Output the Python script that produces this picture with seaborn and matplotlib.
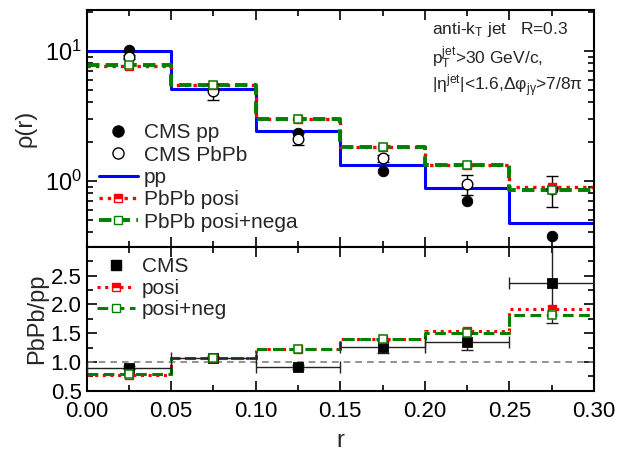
import numpy as np
import pandas as pd
import matplotlib
matplotlib.use("Agg")
import matplotlib.pyplot as plt
from matplotlib.ticker import MultipleLocator, FixedLocator, NullFormatter, LogLocator
from matplotlib.lines import Line2D
import seaborn as sns

# ---------------- data ----------------
bin_edges = [0.0, 0.05, 0.10, 0.15, 0.20, 0.25, 0.30]
bin_centers = [0.025, 0.075, 0.125, 0.175, 0.225, 0.275]

# top panel: rho(r)
cms_pp = [10.1, 4.95, 2.34, 1.19, 0.70, 0.376]
cms_pbpb = [9.0, 4.9, 2.1, 1.49, 0.94, 0.86]
cms_pbpb_err = [0.3, 0.7, 0.23, 0.1, 0.17, 0.23]
model_pp = [9.9, 5.1, 2.42, 1.31, 0.873, 0.472]
model_posi = [7.65, 5.47, 2.97, 1.83, 1.32, 0.90]
model_posineg = [7.76, 5.45, 2.97, 1.83, 1.31, 0.853]

# bottom panel: PbPb/pp
ratio_cms = [0.90, 1.075, 0.91, 1.26, 1.35, 2.37]
ratio_cms_yerr = [0.03, 0.03, 0.03, 0.10, 0.15, 0.70]
ratio_posi = [0.78, 1.065, 1.22, 1.405, 1.54, 1.92]
ratio_posineg = [0.79, 1.065, 1.22, 1.40, 1.50, 1.82]

# ---------------- style ----------------
sns.set_theme(style="ticks")
plt.rcParams["font.family"] = ["Liberation Sans", "DejaVu Sans"]
plt.rcParams["mathtext.fontset"] = "custom"
plt.rcParams["mathtext.rm"] = "Liberation Sans"
plt.rcParams["mathtext.it"] = "Liberation Sans"
plt.rcParams["mathtext.sf"] = "Liberation Sans"

W, H = 619, 455
fig = plt.figure(figsize=(W / 100, H / 100), dpi=100)
L, R = 86.5 / W, 594 / W
TOP, MID, BOT = 10, 247, 390.7
ax1 = fig.add_axes([L, 1 - MID / H, R - L, (MID - TOP) / H])
ax2 = fig.add_axes([L, 1 - BOT / H, R - L, (BOT - MID) / H])

RED_LS = (0, (1, 1.5))
GRN_LS = (0, (3.2, 1.6))


def steps(vals):
    return pd.DataFrame({"x": bin_edges, "y": list(vals) + [vals[-1]]})


# ---- top panel ----
sns.lineplot(data=steps(model_pp), x="x", y="y", ax=ax1, drawstyle="steps-post",
             color="#0000ff", lw=2.2, sort=False, estimator=None)
sns.lineplot(data=steps(model_posi), x="x", y="y", ax=ax1, drawstyle="steps-post",
             color="#ff0000", lw=2.4, linestyle=RED_LS, sort=False, estimator=None)
sns.lineplot(data=steps(model_posineg), x="x", y="y", ax=ax1, drawstyle="steps-post",
             color="#008000", lw=2.8, linestyle=GRN_LS, sort=False, estimator=None)

ax1.errorbar(bin_centers, cms_pbpb, yerr=cms_pbpb_err, fmt="none", ecolor="black",
             elinewidth=1, capsize=4, zorder=3)
sns.scatterplot(x=bin_centers, y=cms_pp, ax=ax1, marker="o", s=58, color="black",
                edgecolor="black", zorder=4)
sns.scatterplot(x=bin_centers, y=cms_pbpb, ax=ax1, marker="o", s=58, facecolor="white",
                edgecolor="black", linewidth=1, zorder=5)
ax1.plot(bin_centers, model_posi, ls="none", marker="s", ms=5.5, color="red",
         fillstyle="top", markerfacecoloralt="white", mec="red", mew=1, zorder=5)
ax1.plot(bin_centers, model_posineg, ls="none", marker="s", ms=5.5, mfc="white",
         mec="green", mew=1.1, zorder=6)

ax1.set_yscale("log")
ax1.set_xlim(0, 0.30)
ax1.set_ylim(0.309, 20.6)
ax1.set_ylabel("ρ(r)", fontsize=17, labelpad=6)
ax1.set_xlabel("")
ax1.xaxis.set_major_locator(MultipleLocator(0.05))
ax1.xaxis.set_minor_locator(MultipleLocator(0.025))
ax1.xaxis.set_major_formatter(NullFormatter())
ax1.yaxis.set_major_locator(FixedLocator([1, 10]))
ax1.yaxis.set_major_formatter(matplotlib.ticker.FixedFormatter(["$10^0$", "$10^1$"]))
ax1.yaxis.set_minor_locator(LogLocator(base=10, subs=np.arange(2, 10)))
ax1.yaxis.set_minor_formatter(NullFormatter())

h1 = [
    Line2D([], [], ls="none", marker="o", ms=8, color="black"),
    Line2D([], [], ls="none", marker="o", ms=8, mfc="white", mec="black"),
    Line2D([], [], color="#0000ff", lw=2.2),
    Line2D([], [], color="#ff0000", lw=2.4, ls=RED_LS, marker="s", ms=6,
           fillstyle="top", markerfacecoloralt="white", mec="red"),
    Line2D([], [], color="#008000", lw=2.8, ls=GRN_LS, marker="s", ms=6,
           mfc="white", mec="green"),
]
ax1.legend(h1, ["CMS pp", "CMS PbPb", "pp", "PbPb posi", "PbPb posi+nega"],
           loc="upper left", bbox_to_anchor=(0.0, 0.575), frameon=False, fontsize=15,
           handlelength=1.85, handletextpad=0.3, labelspacing=0.16, borderpad=0.3,
           borderaxespad=0.3)

tx = (432 - 86.5) / (594 - 86.5)
for yy, s in [(30, r"anti-k$_\mathrm{T}$ jet   R=0.3"),
              (58, r"p$_\mathrm{T}^\mathrm{jet}$>30 GeV/c,"),
              (86, r"|η$^\mathrm{jet}$|<1.6,Δφ$_{\mathrm{j}γ}$>7/8π")]:
    ax1.text(tx, (MID - yy) / (MID - TOP), s, transform=ax1.transAxes,
             fontsize=12.5, va="center")

# ---- bottom panel ----
ax2.axhline(1.0, color="gray", ls=(0, (4, 3)), lw=1.2, zorder=1)
sns.lineplot(data=steps(ratio_posi), x="x", y="y", ax=ax2, drawstyle="steps-post",
             color="#ff0000", lw=2.2, linestyle=RED_LS, sort=False, estimator=None)
sns.lineplot(data=steps(ratio_posineg), x="x", y="y", ax=ax2, drawstyle="steps-post",
             color="#008000", lw=2.2, linestyle=(0, (3.5, 1.8)), sort=False, estimator=None)
ax2.errorbar(bin_centers, ratio_cms, xerr=0.025, yerr=ratio_cms_yerr, fmt="none",
             ecolor="#222222", elinewidth=1, capsize=4, zorder=3)
sns.scatterplot(x=bin_centers, y=ratio_cms, ax=ax2, marker="s", s=50, color="black",
                edgecolor="black", zorder=4)
ax2.plot(bin_centers, ratio_posi, ls="none", marker="s", ms=5.5, color="red",
         fillstyle="top", markerfacecoloralt="white", mec="red", mew=1, zorder=5)
ax2.plot(bin_centers, ratio_posineg, ls="none", marker="s", ms=5.5, mfc="white",
         mec="green", mew=1.1, zorder=6)

ax2.set_xlim(0, 0.30)
ax2.set_ylim(0.5, 3.0)
ax2.xaxis.set_major_locator(MultipleLocator(0.05))
ax2.xaxis.set_minor_locator(MultipleLocator(0.025))
ax2.xaxis.set_major_formatter(matplotlib.ticker.FormatStrFormatter("%.2f"))
ax2.yaxis.set_major_locator(FixedLocator([0.5, 1.0, 1.5, 2.0, 2.5]))
ax2.yaxis.set_minor_locator(MultipleLocator(0.25))
ax2.yaxis.set_major_formatter(matplotlib.ticker.FormatStrFormatter("%.1f"))
ax2.set_xlabel("r", fontsize=17, labelpad=6)
ax2.set_ylabel("PbPb/pp", fontsize=17, labelpad=2)

h2 = [
    Line2D([], [], ls="none", marker="s", ms=7, color="black"),
    Line2D([], [], color="#ff0000", lw=2.2, ls=RED_LS, marker="s", ms=6,
           fillstyle="top", markerfacecoloralt="white", mec="red"),
    Line2D([], [], color="#008000", lw=2.2, ls=(0, (3.5, 1.8)), marker="s", ms=6,
           mfc="white", mec="green"),
]
ax2.legend(h2, ["CMS", "posi", "posi+neg"], loc="upper left",
           bbox_to_anchor=(0.0, 1.0), frameon=False, fontsize=15,
           handlelength=1.85, handletextpad=0.3, labelspacing=0.12, borderpad=0.2,
           borderaxespad=0.3)

for ax in (ax1, ax2):
    for sp in ax.spines.values():
        sp.set_linewidth(1.5)
        sp.set_color("black")
    ax.tick_params(which="both", direction="in", top=True, right=True, colors="black",
                   labelsize=16, width=1.2)
    ax.tick_params(which="major", length=7)
    ax.tick_params(which="minor", length=4)
    ax.set_facecolor("white")
ax2.tick_params(axis="x", which="major", pad=7.5)
ax1.tick_params(axis="y", which="major", labelsize=17)

fig.savefig("out.png", dpi=100, facecolor="white")
